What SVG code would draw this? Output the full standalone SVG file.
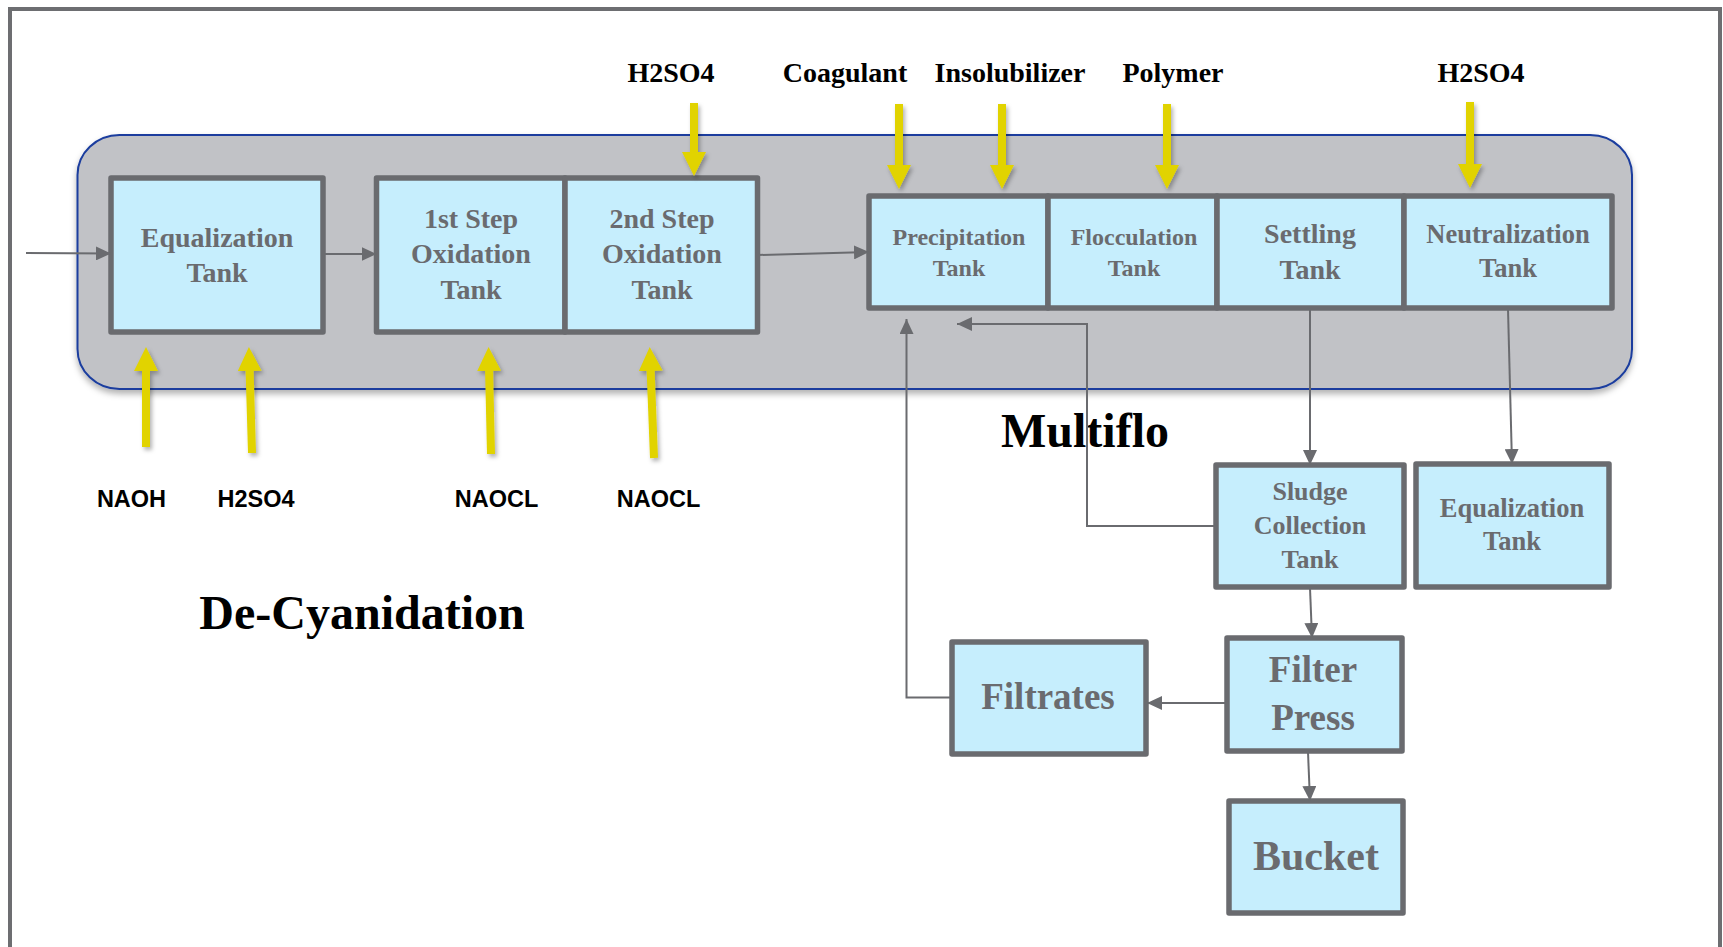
<svg xmlns="http://www.w3.org/2000/svg" width="1723" height="947" viewBox="0 0 1723 947">
  <style>
    .frame { fill: #ffffff; stroke: #6d6e71; stroke-width: 4; }
    .zone { fill: #c1c2c6; stroke: #1a3d9e; stroke-width: 2; }
    .tank { fill: #c6eefd; stroke: #6a6b6f; stroke-width: 5.5; stroke-linejoin: round; }
    .tt { font-family: "Liberation Serif", "Times New Roman", serif; font-weight: bold; fill: #6a6b6f; text-anchor: middle; }
    .chem { font-family: "Liberation Serif", "Times New Roman", serif; font-weight: bold; font-size: 28px; fill: #000000; text-anchor: middle; }
    .chem2 { font-family: "Liberation Sans", Arial, sans-serif; font-weight: bold; font-size: 23.5px; fill: #000000; text-anchor: middle; }
    .title { font-family: "Liberation Serif", "Times New Roman", serif; font-weight: bold; font-size: 48px; fill: #000000; text-anchor: middle; }
    .flow { fill: none; stroke: #6a6b6f; stroke-width: 2; marker-end: url(#ghead); }
    .dose { fill: none; stroke: #e1d300; stroke-width: 8; marker-end: url(#yhead); }
  </style>
  <defs>
    <marker id="ghead" viewBox="0 0 15 14" refX="15" refY="7" markerWidth="15" markerHeight="14" markerUnits="userSpaceOnUse" orient="auto">
      <path d="M0,0 L15,7 L0,14 z" fill="#6a6b6f"/>
    </marker>
    <marker id="yhead" viewBox="0 0 24 24" refX="4" refY="12" markerWidth="24" markerHeight="24" markerUnits="userSpaceOnUse" orient="auto">
      <path d="M0,0 L24,12 L0,24 z" fill="#e1d300"/>
    </marker>
    <filter id="soft" filterUnits="userSpaceOnUse" x="0" y="0" width="1723" height="947">
      <feDropShadow dx="2" dy="3" stdDeviation="2" flood-color="#000000" flood-opacity="0.3"/>
    </filter>
    <filter id="zshadow" filterUnits="userSpaceOnUse" x="0" y="0" width="1723" height="947">
      <feDropShadow dx="0" dy="4" stdDeviation="3" flood-color="#000000" flood-opacity="0.3"/>
    </filter>
  </defs>

  <!-- page border -->
  <rect class="frame" x="10" y="9" width="1710" height="1000"/>

  <!-- process zone -->
  <rect class="zone" x="77.5" y="135" width="1554.5" height="254" rx="42" ry="40" filter="url(#zshadow)"/>

  <!-- section titles -->
  <text class="title" x="362" y="629">De-Cyanidation</text>
  <text class="title" x="1085" y="447">Multiflo</text>

  <!-- chemical feed labels -->
  <g id="feed-labels">
    <text class="chem" x="671" y="82">H2SO4</text>
    <text class="chem" x="845" y="82">Coagulant</text>
    <text class="chem" x="1010" y="82">Insolubilizer</text>
    <text class="chem" x="1173" y="82">Polymer</text>
    <text class="chem" x="1481" y="82">H2SO4</text>
    <text class="chem2" x="131.5" y="507">NAOH</text>
    <text class="chem2" x="256" y="507">H2SO4</text>
    <text class="chem2" x="496.5" y="507">NAOCL</text>
    <text class="chem2" x="658.5" y="507">NAOCL</text>
  </g>

  <!-- tanks -->
  <g id="equalization-tank">
    <rect class="tank" x="111" y="178" width="212" height="154"/>
    <text class="tt" font-size="28" x="217" y="247">Equalization</text>
    <text class="tt" font-size="28" x="217" y="282">Tank</text>
  </g>
  <g id="oxidation-1">
    <rect class="tank" x="376.5" y="178" width="188.5" height="154"/>
    <text class="tt" font-size="28" x="471" y="228">1st Step</text>
    <text class="tt" font-size="28" x="471" y="263">Oxidation</text>
    <text class="tt" font-size="28" x="471" y="299">Tank</text>
  </g>
  <g id="oxidation-2">
    <rect class="tank" x="565" y="178" width="192.5" height="154"/>
    <text class="tt" font-size="28" x="662" y="228">2nd Step</text>
    <text class="tt" font-size="28" x="662" y="263">Oxidation</text>
    <text class="tt" font-size="28" x="662" y="299">Tank</text>
  </g>
  <g id="precipitation-tank">
    <rect class="tank" x="869" y="196" width="179" height="112"/>
    <text class="tt" font-size="24" x="959" y="245">Precipitation</text>
    <text class="tt" font-size="24" x="959" y="276">Tank</text>
  </g>
  <g id="flocculation-tank">
    <rect class="tank" x="1048" y="196" width="169" height="112"/>
    <text class="tt" font-size="24" x="1134" y="245">Flocculation</text>
    <text class="tt" font-size="24" x="1134" y="276">Tank</text>
  </g>
  <g id="settling-tank">
    <rect class="tank" x="1217" y="196" width="187" height="112"/>
    <text class="tt" font-size="28" x="1310" y="243">Settling</text>
    <text class="tt" font-size="28" x="1310" y="279">Tank</text>
  </g>
  <g id="neutralization-tank">
    <rect class="tank" x="1404" y="196" width="208" height="112"/>
    <text class="tt" font-size="26.5" x="1508" y="243">Neutralization</text>
    <text class="tt" font-size="26.5" x="1508" y="277">Tank</text>
  </g>
  <g id="sludge-collection-tank">
    <rect class="tank" x="1216" y="465" width="188" height="122"/>
    <text class="tt" font-size="26" x="1310" y="500">Sludge</text>
    <text class="tt" font-size="26" x="1310" y="534">Collection</text>
    <text class="tt" font-size="26" x="1310" y="568">Tank</text>
  </g>
  <g id="final-equalization-tank">
    <rect class="tank" x="1416" y="464" width="193" height="123"/>
    <text class="tt" font-size="26.5" x="1512" y="517">Equalization</text>
    <text class="tt" font-size="26.5" x="1512" y="550">Tank</text>
  </g>
  <g id="filtrates">
    <rect class="tank" x="952" y="642" width="194" height="112"/>
    <text class="tt" font-size="37" x="1048" y="709">Filtrates</text>
  </g>
  <g id="filter-press">
    <rect class="tank" x="1227" y="638" width="175" height="113"/>
    <text class="tt" font-size="37" x="1313" y="682">Filter</text>
    <text class="tt" font-size="37" x="1313" y="730">Press</text>
  </g>
  <g id="bucket">
    <rect class="tank" x="1229" y="801" width="174" height="112"/>
    <text class="tt" font-size="42" x="1316" y="870">Bucket</text>
  </g>

  <!-- process flow connectors -->
  <g id="connectors">
    <line class="flow" x1="26" y1="253" x2="111" y2="253.5"/>
    <line class="flow" x1="324" y1="254" x2="376.5" y2="254"/>
    <line class="flow" x1="758" y1="255" x2="869" y2="252"/>
    <line class="flow" x1="1310" y1="309" x2="1310" y2="465"/>
    <line class="flow" x1="1508" y1="309" x2="1512" y2="464"/>
    <line class="flow" x1="1310" y1="588" x2="1312" y2="638"/>
    <line class="flow" x1="1308" y1="752" x2="1310" y2="801"/>
    <line class="flow" x1="1227" y1="703" x2="1147" y2="703"/>
    <polyline class="flow" points="1216,526 1087,526 1087,324 957,324"/>
    <polyline class="flow" points="952,697.5 906.5,697.5 906.5,319"/>

    <!-- chemical dosing arrows -->
    <g id="dosing" filter="url(#soft)">
      <line class="dose" x1="146" y1="447" x2="146" y2="367"/>
      <line class="dose" x1="252" y1="453" x2="249.5" y2="367"/>
      <line class="dose" x1="491" y1="454" x2="489" y2="367"/>
      <line class="dose" x1="654" y1="458" x2="650.5" y2="367"/>
      <line class="dose" x1="694" y1="103" x2="694" y2="156"/>
      <line class="dose" x1="899" y1="104" x2="899" y2="169"/>
      <line class="dose" x1="1002" y1="104" x2="1002" y2="169"/>
      <line class="dose" x1="1167" y1="104" x2="1167" y2="169"/>
      <line class="dose" x1="1470" y1="102" x2="1470" y2="168"/>
    </g>
  </g>
</svg>
